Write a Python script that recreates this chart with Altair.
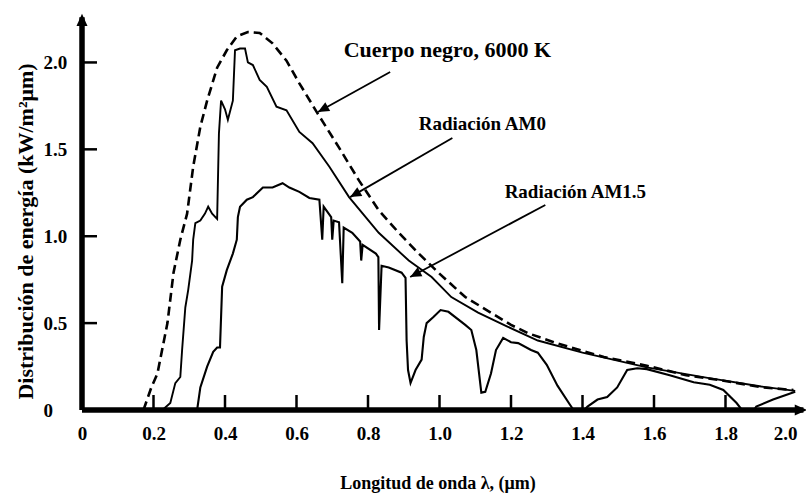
import math
import altair as alt
import pandas as pd

# ---- data ----
# Black body 6000 K (dashed)
bb_x = [0.172, 0.194, 0.211, 0.239, 0.256, 0.275, 0.294, 0.311, 0.331, 0.35,
        0.378, 0.405, 0.433, 0.464, 0.497, 0.533, 0.572, 0.608, 0.658, 0.719,
        0.775, 0.83, 0.886, 0.942, 0.997, 1.072, 1.144, 1.2, 1.25, 1.32,
        1.367, 1.46, 1.58, 1.69, 1.79, 1.905, 1.99]
bb_y = [0.0, 0.13, 0.21, 0.50, 0.79, 0.98, 1.13, 1.40, 1.63, 1.78,
        1.97, 2.07, 2.15, 2.175, 2.17, 2.11, 2.01, 1.88, 1.71, 1.51,
        1.32, 1.15, 1.02, 0.90, 0.79, 0.65, 0.56, 0.49, 0.44, 0.39,
        0.36, 0.305, 0.255, 0.20, 0.17, 0.13, 0.115]

# AM0 radiation
am0_x = [0.225, 0.247, 0.261, 0.275, 0.28, 0.289, 0.297, 0.308, 0.311, 0.317,
         0.331, 0.344, 0.353, 0.364, 0.378, 0.383, 0.389, 0.40, 0.408, 0.422,
         0.428, 0.442, 0.456, 0.464, 0.478, 0.497, 0.517, 0.544, 0.572, 0.608,
         0.645, 0.692, 0.747, 0.83, 0.914, 0.978, 1.033, 1.108, 1.19, 1.275,
         1.4, 1.58, 1.75, 1.9, 1.995]
am0_y = [0.0, 0.04, 0.155, 0.19, 0.345, 0.59, 0.69, 0.86, 0.98, 1.075,
         1.09, 1.13, 1.17, 1.13, 1.10, 1.59, 1.78, 1.73, 1.67, 1.78,
         2.07, 2.08, 2.08, 2.0, 1.985, 1.9, 1.86, 1.745, 1.725, 1.60,
         1.535, 1.40, 1.225, 1.02, 0.86, 0.765, 0.65, 0.56, 0.48, 0.40,
         0.33, 0.245, 0.185, 0.135, 0.11]

# AM1.5 radiation
am15_x = [0.322, 0.331, 0.35, 0.367, 0.378, 0.386, 0.392, 0.405, 0.422, 0.433,
          0.436, 0.442, 0.461, 0.478, 0.506, 0.533, 0.561, 0.58, 0.608, 0.636,
          0.664, 0.672, 0.676, 0.697, 0.70, 0.704, 0.719, 0.728, 0.732, 0.756,
          0.778, 0.781, 0.785, 0.822, 0.829, 0.831, 0.838, 0.858, 0.894, 0.905,
          0.908, 0.912, 0.919, 0.933, 0.95, 0.956, 0.964, 0.983, 1.003, 1.025,
          1.072, 1.089, 1.103, 1.117, 1.128, 1.144, 1.158, 1.178, 1.2, 1.22,
          1.256, 1.275, 1.30, 1.33, 1.365, 1.375, 1.405, 1.414, 1.442, 1.469,
          1.497, 1.525, 1.553, 1.58, 1.644, 1.711, 1.756, 1.794, 1.831, 1.846,
          1.88, 1.886, 1.933, 1.995]
am15_y = [0.0, 0.13, 0.25, 0.335, 0.36, 0.36, 0.71, 0.805, 0.90, 0.98,
          1.11, 1.17, 1.21, 1.225, 1.28, 1.28, 1.305, 1.28, 1.255, 1.22,
          1.21, 0.98, 1.17, 1.11, 0.98, 1.09, 1.08, 0.73, 1.05, 1.02,
          0.97, 0.86, 0.95, 0.90, 0.88, 0.46, 0.83, 0.82, 0.79, 0.76,
          0.40, 0.23, 0.155, 0.23, 0.29, 0.42, 0.50, 0.535, 0.575, 0.565,
          0.49, 0.46, 0.345, 0.10, 0.105, 0.21, 0.345, 0.415, 0.39, 0.385,
          0.345, 0.33, 0.26, 0.14, 0.03, 0.0, 0.0, 0.02, 0.06, 0.075,
          0.13, 0.23, 0.24, 0.235, 0.20, 0.16, 0.145, 0.115, 0.04, 0.0,
          0.0, 0.02, 0.06, 0.105]

x_tick_vals = [0.2, 0.4, 0.6, 0.8, 1.0, 1.2, 1.4, 1.6, 1.8]
y_tick_vals = [0.5, 1.0, 1.5, 2.0]
x_label_vals = [0, 0.2, 0.4, 0.6, 0.8, 1.0, 1.2, 1.4, 1.6, 1.8, 2.0]
y_label_vals = [0, 0.5, 1.0, 1.5, 2.0]

x_axis_end = 2.028
y_axis_end = 2.28

title_text = ["Cuerpo negro, 6000 K"]
title_tx = [1.022]
title_ty = [2.031]
ann_text = ["Radiación AM0", "Radiación AM1.5"]
ann_tx = [1.12, 1.38]
ann_ty = [1.611, 1.22]
arr_x_tail = [0.862, 1.036, 1.296]
arr_y_tail = [1.945, 1.565, 1.18]
arr_x_head = [0.66, 0.75, 0.918]
arr_y_head = [1.715, 1.225, 0.765]

# ---- layout ----
W, H = 715, 391
XDOM = [0, 2.0]
YDOM = [0, 2.25]
KX = W / (XDOM[1] - XDOM[0])
KY = H / (YDOM[1] - YDOM[0])

FONT = "Liberation Serif"

xscale = alt.Scale(domain=XDOM, nice=False, zero=False)
yscale = alt.Scale(domain=YDOM, nice=False, zero=False)

xaxis = alt.Axis(
    values=x_label_vals,
    labelExpr="datum.value == 0 ? '0' : format(datum.value, '.1f')",
    domain=False, ticks=False, grid=False,
    labelPadding=14, labelFont=FONT, labelFontSize=19, labelFontWeight="bold",
    labelColor="black", labelFlush=False, labelOverlap=False,
    labelAlign={"condition": {"test": "datum.value >= 2", "value": "right"},
                "value": "center"},
    title="Longitud de onda λ, (μm)", titleFont=FONT, titleFontSize=18,
    titleFontWeight="bold", titleColor="black", titleX=W / 2 - 2, titleY=78,
    titleAlign="center", titleBaseline="alphabetic",
)
yaxis = alt.Axis(
    values=y_label_vals,
    labelExpr="datum.value == 0 ? '0' : format(datum.value, '.1f')",
    domain=False, ticks=False, grid=False,
    labelAlign="left", labelBaseline="middle", labelPadding=39,
    labelFont=FONT, labelFontSize=19, labelFontWeight="bold",
    labelColor="black", labelFlush=False, labelOverlap=False,
    title="Distribución de energía (kW/m²μm)", titleFont=FONT, titleFontSize=22,
    titleFontWeight="bold", titleColor="black", titleX=-50, titleY=212,
    titleAngle=270, titleAlign="center", titleBaseline="alphabetic",
)


def X(f):
    return alt.X(f, type="quantitative", scale=xscale, axis=xaxis)


def Y(f):
    return alt.Y(f, type="quantitative", scale=yscale, axis=yaxis)


bb = pd.DataFrame({"x": bb_x, "y": bb_y, "o": range(len(bb_x))})
am0 = pd.DataFrame({"x": am0_x, "y": am0_y, "o": range(len(am0_x))})
am15 = pd.DataFrame({"x": am15_x, "y": am15_y, "o": range(len(am15_x))})

l_bb = alt.Chart(bb).mark_line(color="black", strokeWidth=2.6, strokeDash=[9, 5]).encode(
    x=X("x"), y=Y("y"), order="o:Q")
l_am0 = alt.Chart(am0).mark_line(color="black", strokeWidth=1.9).encode(
    x=X("x"), y=Y("y"), order="o:Q")
l_am15 = alt.Chart(am15).mark_line(color="black", strokeWidth=2.1).encode(
    x=X("x"), y=Y("y"), order="o:Q")

# axis lines
axes_df = pd.DataFrame({"x": [0, 0], "y": [0, 0],
                        "x2": [x_axis_end - 0.01, 0], "y2": [0, y_axis_end - 0.02]})
axis_lines = alt.Chart(axes_df).mark_rule(color="black", strokeWidth=5.5).encode(
    x=X("x"), y=Y("y"), x2="x2", y2="y2")

head_path = "M0,0L-1,-0.45L-1,0.45Z"
axis_heads_df = pd.DataFrame({"x": [x_axis_end, 0], "y": [0, y_axis_end], "a": [0, 270]})
axis_heads = alt.Chart(axis_heads_df).mark_point(
    shape=head_path, filled=True, color="black", size=600, opacity=1, strokeWidth=0
).encode(x=X("x"), y=Y("y"), angle=alt.Angle("a:Q", scale=None))

# ticks
xt_df = pd.DataFrame({"x": x_tick_vals, "y": [0] * len(x_tick_vals)})
x_ticks = alt.Chart(xt_df).mark_tick(orient="vertical", size=14, thickness=2.5,
                                     yOffset=-8, color="black", opacity=1).encode(
    x=X("x"), y=Y("y"))
yt_df = pd.DataFrame({"x": [0] * len(y_tick_vals), "y": y_tick_vals})
y_ticks = alt.Chart(yt_df).mark_tick(orient="horizontal", size=14, thickness=2.5,
                                     xOffset=8, color="black", opacity=1).encode(
    x=X("x"), y=Y("y"))

# annotation arrows
angles = []
for xt, yt, xh, yh in zip(arr_x_tail, arr_y_tail, arr_x_head, arr_y_head):
    dx = (xh - xt) * KX
    dy = -(yh - yt) * KY
    angles.append(math.degrees(math.atan2(dy, dx)) % 360)
arr_df = pd.DataFrame({"x": arr_x_tail, "y": arr_y_tail, "x2": arr_x_head,
                       "y2": arr_y_head, "a": angles})
arr_lines = alt.Chart(arr_df).mark_rule(color="black", strokeWidth=1.8).encode(
    x=X("x"), y=Y("y"), x2="x2", y2="y2")
arr_heads = alt.Chart(arr_df).mark_point(
    shape=head_path, filled=True, color="black", size=500, opacity=1, strokeWidth=0
).encode(x=X("x2"), y=Y("y2"), angle=alt.Angle("a:Q", scale=None))

t_df = pd.DataFrame({"x": title_tx, "y": title_ty, "t": title_text})
ann_title = alt.Chart(t_df).mark_text(font=FONT, fontSize=22, fontWeight="bold",
                                      color="black", align="center",
                                      baseline="alphabetic").encode(
    x=X("x"), y=Y("y"), text="t:N")
ann_df = pd.DataFrame({"x": ann_tx, "y": ann_ty, "t": ann_text})
ann = alt.Chart(ann_df).mark_text(font=FONT, fontSize=19, fontWeight="bold",
                                  color="black", align="center",
                                  baseline="alphabetic").encode(
    x=X("x"), y=Y("y"), text="t:N")

chart = alt.layer(
    l_bb, l_am0, l_am15, arr_lines, arr_heads, ann_title, ann,
    axis_lines, axis_heads, x_ticks, y_ticks
).properties(
    width=W, height=H, autosize="none",
    padding={"left": 82, "top": 19, "right": 9, "bottom": 91},
    background="white",
).configure_view(stroke=None)

chart.save("out.html", embed_options={"renderer": "svg", "actions": False})
